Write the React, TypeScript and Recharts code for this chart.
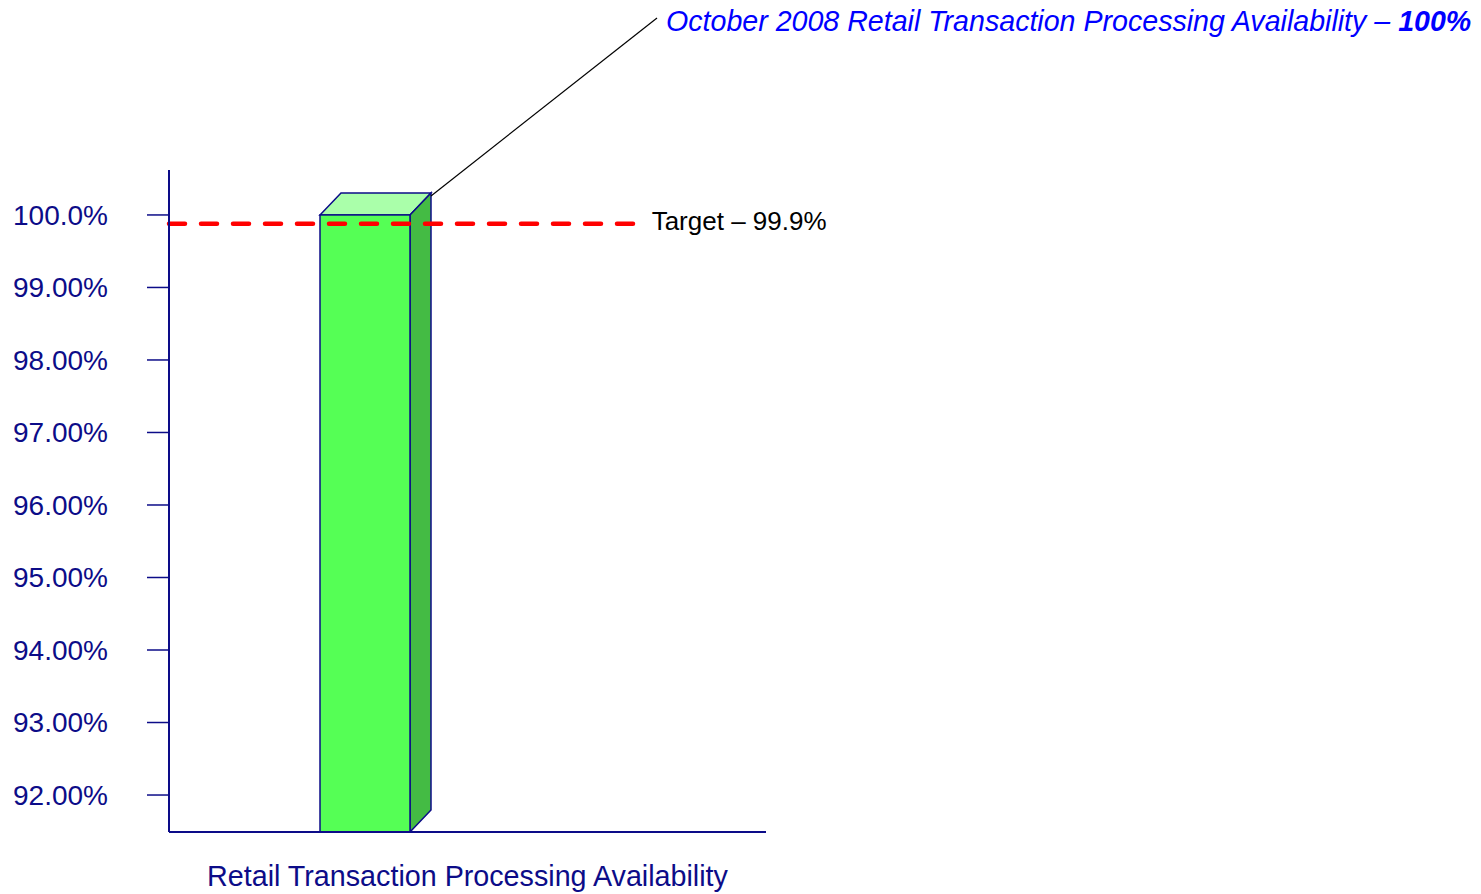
import { BarChart, Bar, XAxis, YAxis, ReferenceLine } from "recharts";

const categories = ["Retail Transaction Processing Availability"];
const availability = [100];
const targetValue = 99.88;
const targetLabel = "Target – 99.9%";
const titleText = "October 2008 Retail Transaction Processing Availability – ";
const titleValue = "100%";
const yTicks = [92, 93, 94, 95, 96, 97, 98, 99, 100];
const yTickLabels = [
  "92.00%",
  "93.00%",
  "94.00%",
  "95.00%",
  "96.00%",
  "97.00%",
  "98.00%",
  "99.00%",
  "100.0%",
];
const yDomain = [91.49, 100.62];

const NAVY = "#0c0c88";
const FONT = "'Liberation Sans', Arial, sans-serif";
const FRONT = "#55ff55";
const TOP = "#aaffaa";
const SIDE = "#44bb44";
const DX = 21;
const DY = 22;

const data = categories.map((name, i) => ({ name, value: availability[i] }));

function Bar3D(props: any) {
  const { x, y, width, height } = props;
  const r = x + width;
  const b = y + height;
  return (
    <g>
      <polygon
        points={`${x},${y} ${x + DX},${y - DY} ${r + DX},${y - DY} ${r},${y}`}
        fill={TOP}
        stroke={NAVY}
        strokeWidth={1.5}
      />
      <polygon
        points={`${r},${y} ${r + DX},${y - DY} ${r + DX},${b - DY} ${r},${b}`}
        fill={SIDE}
        stroke={NAVY}
        strokeWidth={1.5}
      />
      <rect x={x} y={y} width={width} height={height} fill={FRONT} stroke={NAVY} strokeWidth={1.5} />
    </g>
  );
}

function Callout(props: any) {
  const { x, y, width } = props;
  const sx = x + width + DX;
  const sy = y - DY + 3;
  return (
    <g>
      <line x1={sx} y1={sy} x2={sx + 226} y2={sy - 178} stroke="#000" strokeWidth={1.2} />
      <text
        x={sx + 235}
        y={y - 194}
        dominantBaseline="central"
        fill="#0000ff"
        fontStyle="italic"
        fontFamily={FONT}
        fontSize={28.6}
      >
        {titleText}
        <tspan fontWeight="bold">{titleValue}</tspan>
      </text>
    </g>
  );
}

function TargetLine(props: any) {
  const { x1, x2, y1 } = props;
  const end = x1 + (x2 - x1) * 0.78;
  return (
    <g>
      <line
        x1={x1}
        y1={y1}
        x2={end}
        y2={y1}
        stroke="#ff0000"
        strokeWidth={4.5}
        strokeDasharray="16 16"
        strokeLinecap="round"
      />
      <text x={end + 17} y={y1 - 3} dominantBaseline="central" fill="#000" fontFamily={FONT} fontSize={26}>
        {targetLabel}
      </text>
    </g>
  );
}

export default function App() {
  return (
    <div style={{ position: "absolute", left: 0, top: 0, background: "#fff" }}>
      <BarChart
        width={1481}
        height={894}
        data={data}
        margin={{ top: 170, right: 715, bottom: 0, left: 0 }}
      >
        <XAxis
          dataKey="name"
          height={62}
          stroke={NAVY}
          axisLine={{ stroke: NAVY, strokeWidth: 2 }}
          tickLine={false}
          tickSize={0}
          tickMargin={34}
          tick={{ fill: NAVY, fontSize: 28.7, fontFamily: FONT }}
        />
        <XAxis xAxisId="bar" dataKey="name" hide padding={{ left: 0, right: 205 }} />
        <YAxis
          type="number"
          domain={yDomain}
          ticks={yTicks}
          allowDataOverflow
          width={169}
          axisLine={{ stroke: NAVY, strokeWidth: 2 }}
          tickLine={{ stroke: NAVY, strokeWidth: 1.5 }}
          tickSize={22}
          tickMargin={39}
          tickFormatter={(v: number) => yTickLabels[yTicks.indexOf(v)] ?? ""}
          tick={{ fill: NAVY, fontSize: 28, fontFamily: FONT }}
        />
        <Bar
          xAxisId="bar"
          dataKey="value"
          barSize={90}
          shape={Bar3D}
          label={Callout}
          isAnimationActive={false}
        />
        <ReferenceLine y={targetValue} shape={TargetLine} />
      </BarChart>
    </div>
  );
}
